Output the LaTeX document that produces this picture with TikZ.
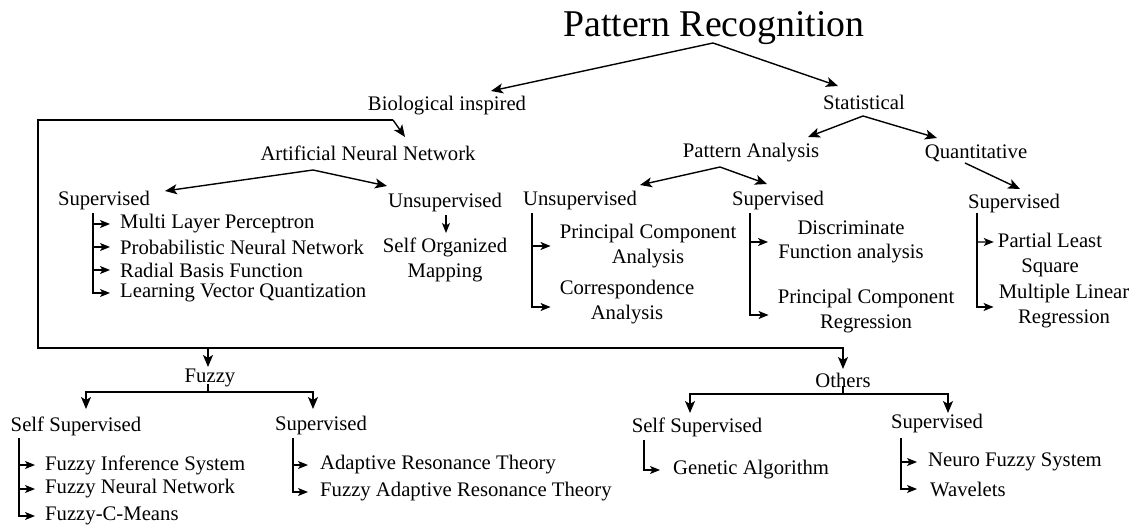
\documentclass[tikz,border=0pt]{standalone}
\usepackage{fontspec}
\setmainfont{Liberation Serif}
\usetikzlibrary{arrows.meta}
\begin{document}
\begin{tikzpicture}[x=1bp,y=-1bp,
  lbl/.style={inner sep=0pt, font=\fontsize{20.7bp}{24.5bp}\selectfont, align=center},
  arr/.style={line width=1.4bp, -{Stealth[length=12bp,width=10bp,inset=3bp]}},
  sarr/.style={line width=1.2bp, -{Stealth[length=10bp,width=8bp,inset=2.5bp]}},
  ln/.style={line width=1.4bp},
]
\useasboundingbox (0,0) rectangle (1138,526);
% ---------- nodes ----------
\node[lbl, font=\fontsize{37.8bp}{40bp}\selectfont] (pr) at (714,28) {Pattern Recognition};
\node[lbl] (bio) at (447,106) {Biological inspired};
\node[lbl] (stat) at (864,102) {Statistical};
\node[lbl] (ann) at (368,153) {Artificial Neural Network};
\node[lbl] (annS) at (104,201) {Supervised};
\node[lbl] (annU) at (445,203) {Unsupervised};
\node[lbl] (som) at (445,260) {Self Organized\\Mapping};
\node[lbl, anchor=west] (mlp) at (120,224) {Multi Layer Perceptron};
\node[lbl, anchor=west] (pnn) at (120,247) {Probabilistic Neural Network};
\node[lbl, anchor=west] (rbf) at (120,270) {Radial Basis Function};
\node[lbl, anchor=west] (lvq) at (120,293) {Learning Vector Quantization};
\node[lbl] (pa) at (751,153) {Pattern Analysis};
\node[lbl] (quant) at (976,153) {Quantitative};
\node[lbl] (paU) at (580,201) {Unsupervised};
\node[lbl] (paS) at (778,201) {Supervised};
\node[lbl] (qS) at (1014,204) {Supervised};
\node[lbl] (pca) at (648,246) {Principal Component\\Analysis};
\node[lbl] (ca) at (627,302) {Correspondence\\Analysis};
\node[lbl] (dfa) at (851,242) {Discriminate\\Function analysis};
\node[lbl] (pcr) at (866,311) {Principal Component\\Regression};
\node[lbl] (pls) at (1050,255) {Partial Least\\Square};
\node[lbl] (mlr) at (1064,306) {Multiple Linear\\Regression};
\node[lbl] (fuzzy) at (210,378) {Fuzzy};
\node[lbl] (others) at (843,380) {Others};
\node[lbl] (fSS) at (76,426) {Self Supervised};
\node[lbl] (fS) at (321,426) {Supervised};
\node[lbl, anchor=west] (fis) at (45,465) {Fuzzy Inference System};
\node[lbl, anchor=west] (fnn) at (45,489) {Fuzzy Neural Network};
\node[lbl, anchor=west] (fcm) at (45,516) {Fuzzy-C-Means};
\node[lbl, anchor=west] (art) at (320,465) {Adaptive Resonance Theory};
\node[lbl, anchor=west] (fart) at (320,492) {Fuzzy Adaptive Resonance Theory};
\node[lbl] (oSS) at (697,427) {Self Supervised};
\node[lbl] (oS) at (937,424) {Supervised};
\node[lbl, anchor=west] (ga) at (673,470) {Genetic Algorithm};
\node[lbl, anchor=west] (nfs) at (928,462) {Neuro Fuzzy System};
\node[lbl, anchor=west] (wav) at (930,489) {Wavelets};
% ---------- junction coordinates ----------
\coordinate (prv) at (713,43);
\coordinate (bioT) at (491,91);
\coordinate (statT) at (838,86);
\coordinate (stv) at (863,116);
\coordinate (paT) at (808,137);
\coordinate (qT) at (937,138);
\coordinate (pav) at (720,167);
\coordinate (paUT) at (640,185);
\coordinate (paST) at (767,184);
\coordinate (qv) at (965,163);
\coordinate (qST) at (1020,189);
\coordinate (annv) at (313,170);
\coordinate (annST) at (165,191);
\coordinate (annUT) at (387,186);
\coordinate (uv) at (446,215);
\coordinate (somT) at (446,233);
\coordinate (bj) at (393,120);
\coordinate (annT) at (405,137);
\coordinate (bl) at (38,120);
\coordinate (bb) at (38,348);
\coordinate (fb) at (208,348);
\coordinate (ob) at (843,348);
\coordinate (fuzzyT) at (208,367);
\coordinate (othersT) at (843,369);
\coordinate (fstem) at (208,384);
\coordinate (fj) at (208,392);
\coordinate (fjl) at (86,392);
\coordinate (fjr) at (313,392);
\coordinate (fSST) at (86,409);
\coordinate (fST) at (313,409);
\coordinate (ostem) at (843,386);
\coordinate (oj) at (843,394);
\coordinate (ojl) at (690,394);
\coordinate (ojr) at (948,394);
\coordinate (oSST) at (690,413);
\coordinate (oST) at (948,413);
% ---------- connectors ----------
\draw[arr] (prv) -- (bioT);
\draw[arr] (prv) -- (statT);
\draw[arr] (stv) -- (paT);
\draw[arr] (stv) -- (qT);
\draw[arr] (pav) -- (paUT);
\draw[arr] (pav) -- (paST);
\draw[arr] (qv) -- (qST);
\draw[arr] (annv) -- (annST);
\draw[arr] (annv) -- (annUT);
\draw[sarr] (uv) -- (somT);
\draw[arr] (bj) -- (annT);
\draw[arr] (bj) -- (bl) -- (bb) -- (ob) -- (othersT);
\draw[arr] (fb) -- (fuzzyT);
\draw[ln] (fstem) -- (fj);
\draw[arr] (fj) -- (fjl) -- (fSST);
\draw[arr] (fj) -- (fjr) -- (fST);
\draw[ln] (ostem) -- (oj);
\draw[arr] (oj) -- (ojl) -- (oSST);
\draw[arr] (oj) -- (ojr) -- (oST);
% ---------- lists ----------
\coordinate (s1) at (93,213);
\foreach \n in {mlp,pnn,rbf} \draw[sarr] (s1 |- \n.west) -- ([xshift=-10bp]\n.west);
\draw[sarr] (s1) |- ([xshift=-10bp]lvq.west);
\coordinate (s2) at (532,213);
\draw[sarr] (s2 |- pca.west) -- ([xshift=-9bp]pca.west);
\draw[sarr] (s2) |- ([xshift=-9bp,yshift=-5bp]ca.west);
\coordinate (s3) at (750,213);
\draw[sarr] (s3 |- dfa.west) -- ([xshift=-10bp]dfa.west);
\draw[sarr] (s3) |- ([xshift=-9bp,yshift=-4bp]pcr.west);
\coordinate (s4) at (977,213);
\draw[sarr] (s4 |- 0,242) -- ([xshift=-4bp,yshift=13bp]pls.west);
\draw[sarr] (s4) |- ([xshift=-5bp,yshift=-1bp]mlr.west);
\coordinate (s5) at (19,438);
\foreach \n in {fis,fnn} \draw[sarr] (s5 |- \n.west) -- ([xshift=-10bp]\n.west);
\draw[sarr] (s5) |- ([xshift=-10bp]fcm.west);
\coordinate (s6) at (293,438);
\draw[sarr] (s6 |- art.west) -- ([xshift=-12bp]art.west);
\draw[sarr] (s6) |- ([xshift=-12bp]fart.west);
\coordinate (s7) at (644,440);
\draw[sarr] (s7) |- ([xshift=-13bp]ga.west);
\coordinate (s8) at (901,438);
\draw[sarr] (s8 |- nfs.west) -- ([xshift=-11bp]nfs.west);
\draw[sarr] (s8) |- ([xshift=-13bp]wav.west);
\end{tikzpicture}
\end{document}
